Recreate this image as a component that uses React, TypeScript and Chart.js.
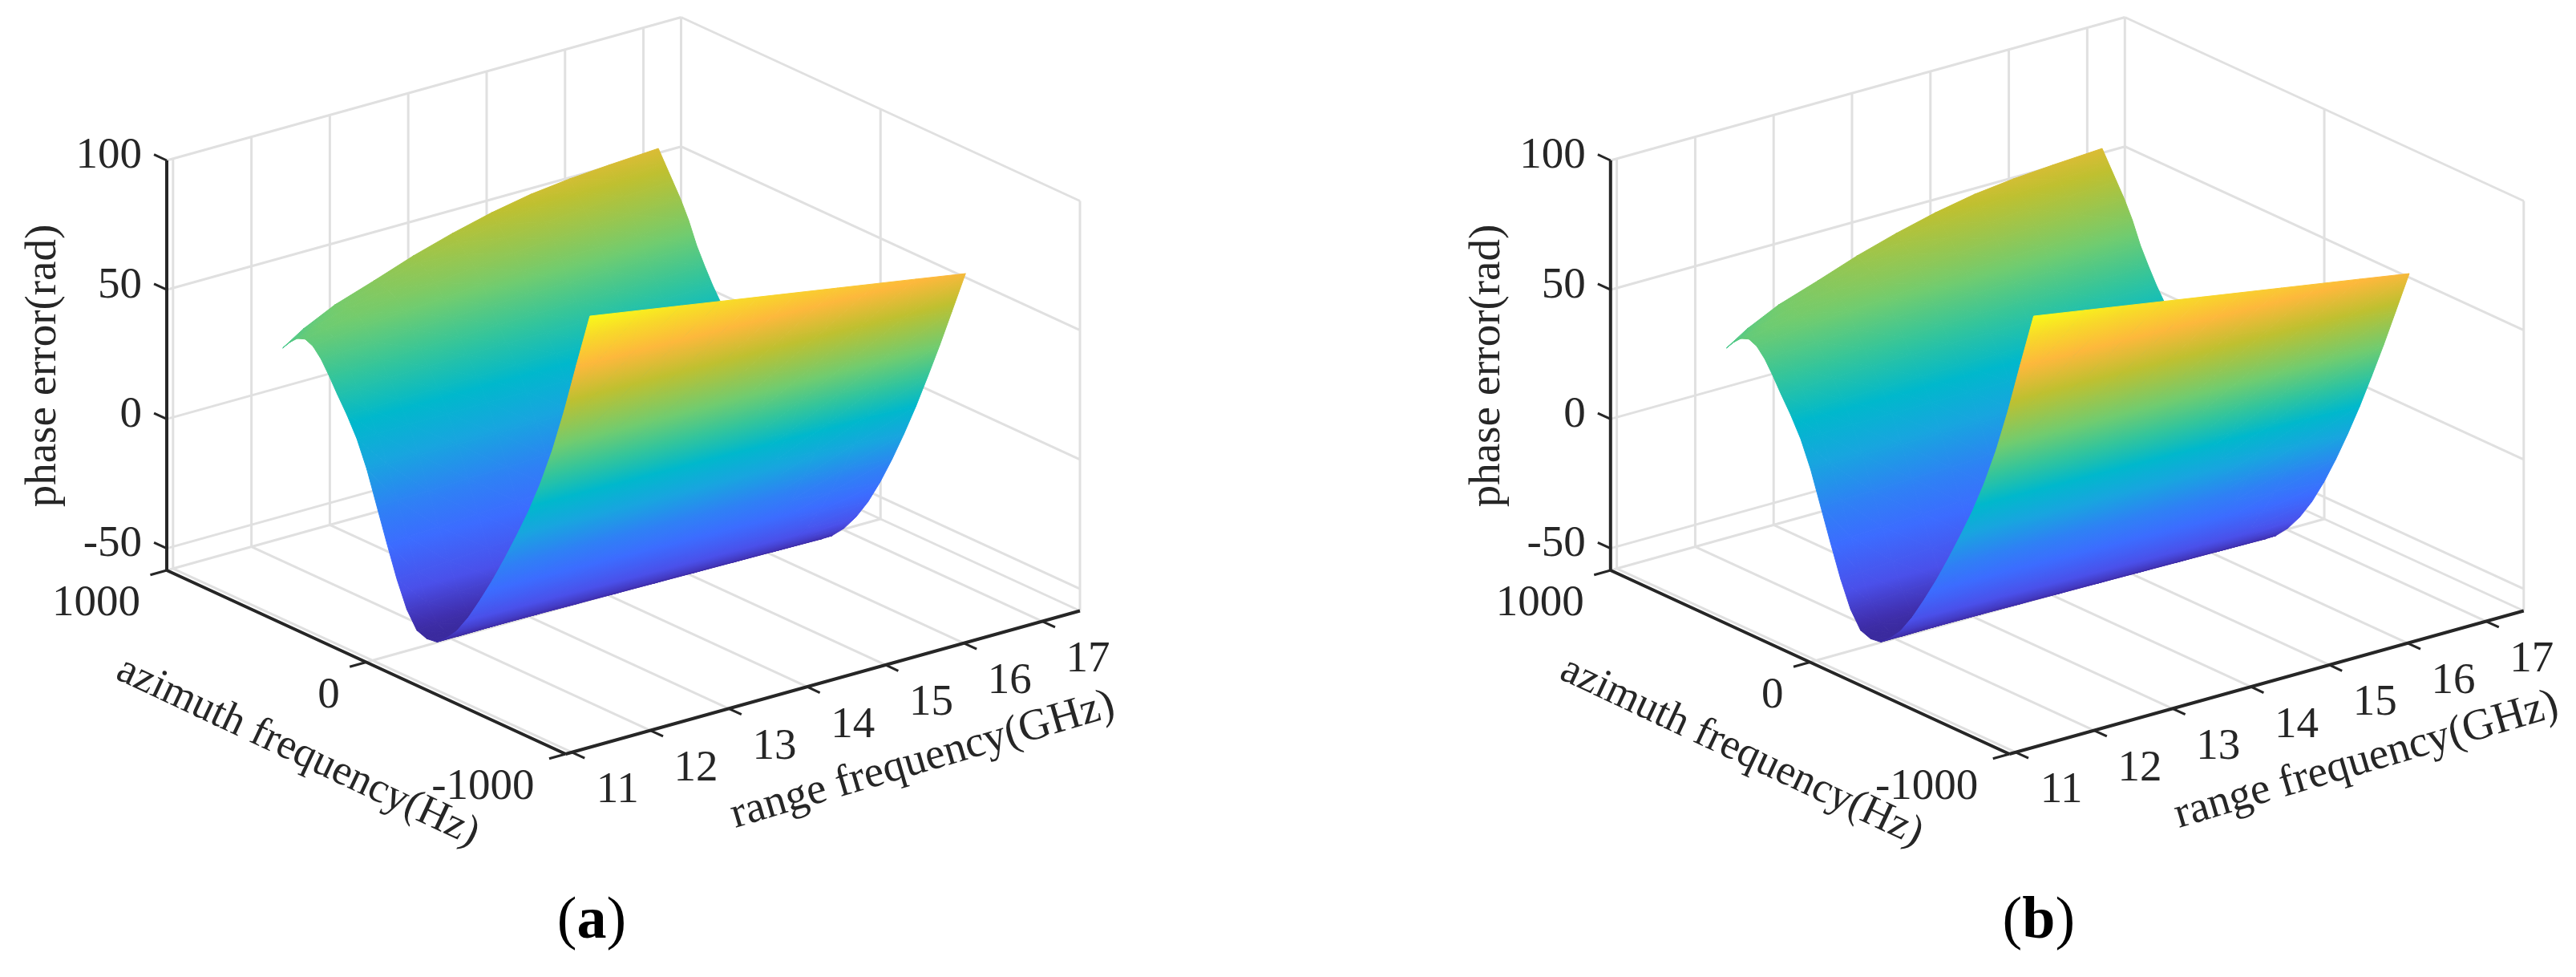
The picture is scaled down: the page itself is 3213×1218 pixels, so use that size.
import { useEffect, useRef } from 'react';
import { Chart, registerables } from 'chart.js';

Chart.register(...registerables);

// ---------- data ----------
const rangeTicks = [11, 12, 13, 14, 15, 16, 17];
const azimuthTicks = [-1000, 0, 1000];
const phaseTicks = [-50, 0, 50, 100];

const rangeRows = [11.82, 12.08, 12.48, 12.98, 13.48, 13.98, 14.48, 14.98, 15.48, 15.98, 16.61];
const azimuthCols = [772, 740, 700, 660, 620, 580, 540, 500, 450, 400, 350, 300, 250, 200, 150, 100, 50, 0, -50, -100, -160, -220, -280, -340, -400, -460, -520, -580, -640, -700, -768];

const phaseRow0 = [28, 31.2, 34.2, 35.4, 34, 30.5, 25.5, 20, 13.5, 6, -4, -16.5, -29, -41, -51, -57.3, -58.8, -58.3, -55, -50.5, -43, -34, -24.4, -14, -3, 8.5, 21.5, 36.5, 54, 73.5, 95];
const phaseRow1 = [33.1, 35.3, 37.1, 37.3, 35.2, 31, 25.8, 20.2, 13.7, 6, -4, -16.3, -28.6, -40.5, -50.5, -56.9, -58.6, -58.3, -55.1, -50.7, -43.3, -34.5, -25, -14.6, -3.6, 7.9, 20.9, 35.9, 53.2, 72.4, 93.7];
const phaseRow2 = [39, 39.9, 40.3, 39.5, 36.5, 31.6, 26.1, 20.5, 14, 6, -4, -16, -28.1, -39.8, -49.8, -56.3, -58.3, -58.2, -55.3, -51, -43.8, -35.2, -25.8, -15.5, -4.5, 7.1, 20, 34.9, 51.9, 70.8, 91.7];
const phaseRow3 = [44.1, 44, 43.2, 41.4, 37.7, 32.1, 26.4, 20.7, 14.2, 6, -4, -15.6, -27.4, -38.8, -48.9, -55.5, -58, -58.1, -55.5, -51.3, -44.5, -36.1, -26.8, -16.6, -5.6, 6, 19, 33.7, 50.4, 68.8, 89.2];
const phaseRow4 = [49.5, 48.2, 46, 43.2, 38.8, 32.5, 26.6, 20.9, 14.4, 6, -4, -15.3, -26.8, -37.9, -48, -54.8, -57.7, -58, -55.7, -51.7, -45.1, -37, -27.9, -17.8, -6.8, 5, 17.9, 32.5, 48.9, 66.8, 86.7];
const phaseRow5 = [54, 51.8, 48.7, 45, 39.9, 33, 26.9, 21.1, 14.6, 6, -4, -14.9, -26.1, -36.9, -47.2, -54, -57.3, -57.9, -55.9, -52.1, -45.7, -37.8, -28.9, -18.9, -7.9, 3.9, 16.8, 31.2, 47.3, 64.7, 84.2];
const phaseRow6 = [57.8, 54.7, 50.7, 46.3, 40.7, 33.3, 27.1, 21.2, 14.7, 6, -4, -14.4, -25.2, -35.6, -46, -53, -56.9, -57.9, -56.1, -52.5, -46.4, -38.7, -30, -20, -9, 2.8, 15.7, 30, 45.7, 62.7, 81.7];
const phaseRow7 = [60.7, 57, 52.4, 47.5, 41.4, 33.6, 27.3, 21.3, 14.8, 6, -4, -13.9, -24.2, -34.3, -44.8, -52, -56.4, -57.8, -56.3, -52.8, -47, -39.6, -31.1, -21.1, -10.1, 1.7, 14.6, 28.8, 44.1, 60.6, 79.2];
const phaseRow8 = [62.5, 58.4, 53.4, 48.1, 41.7, 33.8, 27.4, 21.4, 14.9, 6, -4, -13.5, -23.5, -33.5, -43.9, -51.2, -56.1, -57.7, -56.5, -53.2, -47.6, -40.5, -32.2, -22.3, -11.3, 0.7, 13.5, 27.6, 42.6, 58.6, 76.7];
const phaseRow9 = [63.6, 59.3, 54, 48.6, 42, 33.9, 27.4, 21.4, 14.9, 6, -4, -13.2, -22.9, -32.6, -43, -50.5, -55.9, -57.6, -56.7, -53.5, -48.2, -41.4, -33.2, -23.4, -12.4, -0.4, 12.4, 26.3, 41, 56.6, 74.2];
const phaseRow10 = [64.7, 60.2, 54.6, 49, 42.3, 34, 27.5, 21.5, 15, 6, -4, -13, -22.5, -32, -42.5, -50, -55.5, -57.5, -57, -54, -49, -42.5, -34.5, -24.8, -13.8, -1.8, 11, 24.8, 39, 54, 71];
const phaseTable = [phaseRow0, phaseRow1, phaseRow2, phaseRow3, phaseRow4, phaseRow5, phaseRow6, phaseRow7, phaseRow8, phaseRow9, phaseRow10];

const colorPhase = [-58.5, -55, -45, -30, -18, -2.5, 11, 25, 38, 58, 73, 85, 95];
const colorHex = ['#3a2a9e', '#4030b0', '#4a50ea', '#3c6cff', '#2f80f5', '#18a5df', '#00b8cc', '#35c59a', '#70cc70', '#bfc030', '#fdb83c', '#f8d82a', '#f9f81a'];

const panelNames = [['(', 'a', ')'], ['(', 'b', ')']];
const rangeLabel = 'range frequency(GHz)';
const azimuthLabel = 'azimuth frequency(Hz)';
const phaseLabel = 'phase error(rad)';

// ---------- layout ----------
const RMIN = 10.92, RMAX = 17.48, AMIN = -1000, AMAX = 1000, ZMIN = -58.5, ZMAX = 100;
const INK = '#262626';
const GRID = '#e0e0e0';
const SERIF = '"Liberation Serif", serif';
const panels = [
  { left: 0, width: 1607, ox: 208, oy: 711, capDx: 530, zDx: -153 },
  { left: 1607, width: 1606, ox: 401.8, oy: 711, capDx: 534, zDx: -153 },
];
const HEIGHT = 1218;
const VAZ = [497.5, 229];
const VR = [641.5, -178.5];
const VZ = -511;

type P = { x: number; y: number };
const projector = (ox: number, oy: number) => (r: number, a: number, z: number): P => {
  const u = (AMAX - a) / (AMAX - AMIN);
  const v = (r - RMIN) / (RMAX - RMIN);
  const c = (z - ZMIN) / (ZMAX - ZMIN);
  return { x: ox + u * VAZ[0] + v * VR[0], y: oy + u * VAZ[1] + v * VR[1] + c * VZ };
};

const hexRgb = (h: string) => [1, 3, 5].map((i) => parseInt(h.slice(i, i + 2), 16));
const colorAt = (z: number) => {
  if (z <= colorPhase[0]) return colorHex[0];
  for (let i = 1; i < colorPhase.length; i++) {
    if (z <= colorPhase[i]) {
      const t = (z - colorPhase[i - 1]) / (colorPhase[i] - colorPhase[i - 1]);
      const a = hexRgb(colorHex[i - 1]);
      const b = hexRgb(colorHex[i]);
      return `rgb(${a.map((v, k) => Math.round(v + (b[k] - v) * t)).join(',')})`;
    }
  }
  return colorHex[colorHex.length - 1];
};

function triangleFill(chart: any, pts: P[], zs: number[]) {
  const sx = chart.scales.x, sy = chart.scales.y;
  const px = pts.map((p) => sx.getPixelForValue(p.x));
  const py = pts.map((p) => sy.getPixelForValue(p.y));
  const det = (px[1] - px[0]) * (py[2] - py[0]) - (px[2] - px[0]) * (py[1] - py[0]);
  const zAvg = (zs[0] + zs[1] + zs[2]) / 3;
  if (Math.abs(det) < 1e-6) return colorAt(zAvg);
  const a = ((zs[1] - zs[0]) * (py[2] - py[0]) - (zs[2] - zs[0]) * (py[1] - py[0])) / det;
  const b = ((px[1] - px[0]) * (zs[2] - zs[0]) - (px[2] - px[0]) * (zs[1] - zs[0])) / det;
  const g2 = a * a + b * b;
  const zLo = Math.min(...zs), zHi = Math.max(...zs);
  if (g2 < 1e-12 || zHi - zLo < 1e-6) return colorAt(zAvg);
  const k = zs.indexOf(zLo);
  const d = (zHi - zLo) / g2;
  const grad = chart.ctx.createLinearGradient(px[k], py[k], px[k] + a * d, py[k] + b * d);
  grad.addColorStop(0, colorAt(zLo));
  colorPhase.forEach((z) => {
    if (z > zLo && z < zHi) grad.addColorStop((z - zLo) / (zHi - zLo), colorAt(z));
  });
  grad.addColorStop(1, colorAt(zHi));
  return grad;
}

function surfaceDatasets(project: (r: number, a: number, z: number) => P) {
  const out: any[] = [];
  const addTri = (cells: [number, number][]) => {
    const zs = cells.map(([i, j]) => phaseTable[i][j]);
    const pts = cells.map(([i, j]) => project(rangeRows[i], azimuthCols[j], phaseTable[i][j]));
    let cache: any = null;
    const paint = (c: any) => {
      if (cache) return cache;
      const sx = c.chart.scales.x;
      if (!c.chart.chartArea || !sx || !Number.isFinite(sx.getPixelForValue(pts[0].x))) return 'transparent';
      cache = triangleFill(c.chart, pts, zs);
      return cache;
    };
    out.push({
      data: [...pts, pts[0]],
      fill: 'shape',
      backgroundColor: paint,
      borderColor: paint,
      borderWidth: 1,
      pointRadius: 0,
      pointBackgroundColor: 'transparent',
      pointBorderColor: 'transparent',
      tension: 0,
    });
  };
  // first dataset is painted last: nearest cells go first
  for (let j = azimuthCols.length - 2; j >= 0; j--) {
    for (let i = 0; i < rangeRows.length - 1; i++) {
      addTri([[i, j], [i, j + 1], [i + 1, j + 1]]);
      addTri([[i, j], [i + 1, j + 1], [i + 1, j]]);
    }
  }
  return out;
}

function lineDataset(segments: P[][], color: string, width: number) {
  const data: any[] = [];
  segments.forEach((s) => {
    data.push(...s, { x: null, y: null });
  });
  return { data, borderColor: color, borderWidth: width, pointRadius: 0, fill: false, spanGaps: false, borderCapStyle: 'butt', tension: 0 };
}

function buildPanel(canvas: HTMLCanvasElement, idx: number) {
  const panel = panels[idx];
  const project = projector(panel.ox, panel.oy);
  const grid: P[][] = [];
  const seg = (a: [number, number, number], b: [number, number, number]) => grid.push([project(...a), project(...b)]);
  rangeTicks.forEach((r) => {
    seg([r, AMAX, ZMIN], [r, AMAX, ZMAX]);
    seg([r, AMAX, ZMIN], [r, AMIN, ZMIN]);
  });
  phaseTicks.forEach((z) => {
    seg([RMIN, AMAX, z], [RMAX, AMAX, z]);
    seg([RMAX, AMAX, z], [RMAX, AMIN, z]);
  });
  azimuthTicks.forEach((a) => {
    seg([RMAX, a, ZMIN], [RMAX, a, ZMAX]);
    seg([RMIN, a, ZMIN], [RMAX, a, ZMIN]);
  });
  seg([RMAX, AMAX, ZMIN], [RMAX, AMIN, ZMIN]);
  seg([RMIN, AMAX, ZMIN], [RMIN, AMIN, ZMIN]);

  const axes = [
    [project(RMIN, AMAX, ZMIN), project(RMIN, AMAX, ZMAX)],
    [project(RMIN, AMAX, ZMIN), project(RMIN, AMIN, ZMIN)],
    [project(RMIN, AMIN, ZMIN), project(RMAX, AMIN, ZMIN)],
  ];
  const ticks: P[][] = [];
  rangeTicks.forEach((r) => ticks.push([project(r, AMIN, ZMIN), project(r, AMIN - 64, ZMIN)]));
  azimuthTicks.forEach((a) => ticks.push([project(RMIN, a, ZMIN), project(RMIN - 0.21, a, ZMIN)]));
  phaseTicks.forEach((z) => ticks.push([project(RMIN, AMAX, z), project(RMIN, AMAX + 64, z)]));

  const textPlugin = {
    id: 'axisText',
    afterDraw(chart: any) {
      const c = chart.ctx;
      const X = (v: number) => chart.scales.x.getPixelForValue(v);
      const Y = (v: number) => chart.scales.y.getPixelForValue(v);
      const put = (s: string, x: number, y: number, align: CanvasTextAlign, rot = 0) => {
        c.save();
        c.translate(X(x), Y(y));
        c.rotate((rot * Math.PI) / 180);
        c.textAlign = align;
        c.textBaseline = 'middle';
        c.fillText(s, 0, 0);
        c.restore();
      };
      c.save();
      c.fillStyle = INK;
      c.font = `55px ${SERIF}`;
      phaseTicks.forEach((z) => {
        const p = project(RMIN, AMAX, z);
        put(String(z), p.x - 31, p.y - 5, 'right');
      });
      azimuthTicks.forEach((a) => {
        const p = project(RMIN, a, ZMIN);
        put(String(a), p.x - (a === AMIN ? 39 : 33), p.y + 42, 'right');
      });
      rangeTicks.forEach((r) => {
        const p = project(r, AMIN, ZMIN);
        put(String(r), p.x + 57, p.y + 48, 'center');
      });
      put(phaseLabel, panel.ox + panel.zDx, panel.oy - 255, 'center', -90);
      put(rangeLabel, panel.ox + 943, panel.oy + 237, 'center', -16.4);
      c.font = `53px ${SERIF}`;
      put(azimuthLabel, panel.ox + 163.5, panel.oy + 226.5, 'center', 25.2);
      // caption
      const [l, m, r] = panelNames[idx];
      c.fillStyle = '#000';
      c.font = `74px ${SERIF}`;
      const wl = c.measureText(l).width;
      const wr = c.measureText(r).width;
      c.font = `bold 74px ${SERIF}`;
      const wm = c.measureText(m).width;
      const x0 = panel.ox + panel.capDx - (wl + wm + wr) / 2;
      c.font = `74px ${SERIF}`;
      put(l, x0, 1150, 'left');
      put(r, x0 + wl + wm, 1150, 'left');
      c.font = `bold 74px ${SERIF}`;
      put(m, x0 + wl, 1150, 'left');
      c.restore();
    },
  };

  return new Chart(canvas, {
    type: 'line',
    data: {
      datasets: [
        lineDataset(axes, INK, 4),
        lineDataset(ticks, INK, 3),
        ...surfaceDatasets(project),
        lineDataset(grid, GRID, 3),
      ] as any,
    },
    options: {
      animation: false,
      responsive: false,
      maintainAspectRatio: false,
      events: [],
      layout: { padding: 0 },
      parsing: { xAxisKey: 'x', yAxisKey: 'y' },
      scales: {
        x: { type: 'linear', display: false, min: 0, max: panel.width },
        y: { type: 'linear', display: false, min: 0, max: HEIGHT, reverse: true },
      },
      plugins: { legend: { display: false }, tooltip: { enabled: false } },
    } as any,
    plugins: [textPlugin],
  });
}

export default function App() {
  const a = useRef<HTMLCanvasElement>(null);
  const b = useRef<HTMLCanvasElement>(null);
  useEffect(() => {
    const charts = [buildPanel(a.current!, 0), buildPanel(b.current!, 1)];
    return () => charts.forEach((c) => c.destroy());
  }, []);
  return (
    <div style={{ position: 'fixed', left: 0, top: 0, width: 3213, height: HEIGHT, background: '#fff', overflow: 'hidden' }}>
      <canvas ref={a} width={panels[0].width} height={HEIGHT} style={{ position: 'absolute', left: panels[0].left, top: 0, width: panels[0].width, height: HEIGHT }} />
      <canvas ref={b} width={panels[1].width} height={HEIGHT} style={{ position: 'absolute', left: panels[1].left, top: 0, width: panels[1].width, height: HEIGHT }} />
    </div>
  );
}
